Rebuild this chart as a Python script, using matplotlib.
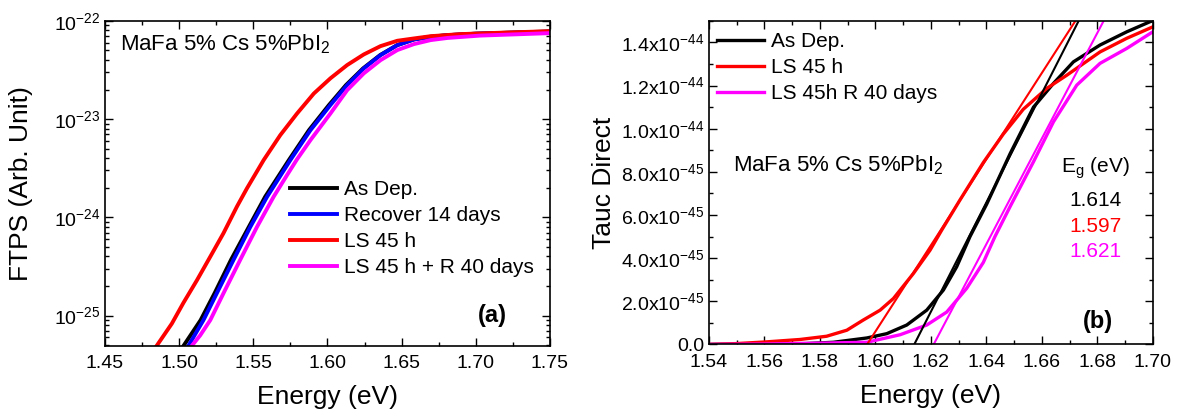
import numpy as np
import matplotlib
matplotlib.use("Agg")
import matplotlib.pyplot as plt
from matplotlib.ticker import MultipleLocator, FuncFormatter, FixedLocator, NullFormatter

plt.rcParams["font.family"] = ["Liberation Sans", "DejaVu Sans"]
plt.rcParams["mathtext.fontset"] = "custom"
plt.rcParams["mathtext.rm"] = "Liberation Sans"
plt.rcParams["mathtext.it"] = "Liberation Sans:italic"
plt.rcParams["mathtext.bf"] = "Liberation Sans:bold"
plt.rcParams["axes.unicode_minus"] = False

# ---- panel (a): FTPS spectra ----
e_asdep = [1.503, 1.5145, 1.524, 1.535, 1.547, 1.558, 1.574, 1.5875, 1.601, 1.6125, 1.624,
           1.6355, 1.647, 1.6583, 1.6696, 1.681, 1.70, 1.75]
y_asdep = [4.94e-26, 9.0e-26, 1.7e-25, 3.7e-25, 8.0e-25, 1.62e-24, 3.83e-24, 7.7e-24,
           1.39e-23, 2.22e-23, 3.28e-23, 4.48e-23, 5.66e-23, 6.47e-23, 6.9e-23, 7.15e-23,
           7.4e-23, 7.8e-23]

e_recover = [1.5063, 1.5164, 1.5255, 1.5367, 1.548, 1.5593, 1.575, 1.5885, 1.602, 1.6133,
             1.6245, 1.6358, 1.6471, 1.6583, 1.6696, 1.681, 1.70, 1.75]
y_recover = [4.94e-26, 9.0e-26, 1.7e-25, 3.7e-25, 8.0e-25, 1.62e-24, 3.83e-24, 7.7e-24,
             1.39e-23, 2.22e-23, 3.28e-23, 4.48e-23, 5.66e-23, 6.47e-23, 6.85e-23, 7.15e-23,
             7.4e-23, 7.76e-23]

e_ls45 = [1.4849, 1.4951, 1.5029, 1.512, 1.521, 1.5299, 1.539, 1.5457, 1.557, 1.5682, 1.5795,
          1.5908, 1.602, 1.6133, 1.6245, 1.6358, 1.6471, 1.6583, 1.6696, 1.69, 1.72, 1.75]
y_ls45 = [4.94e-26, 8.3e-26, 1.35e-25, 2.29e-25, 3.98e-25, 6.9e-25, 1.29e-24, 1.97e-24, 3.83e-24,
          6.87e-24, 1.14e-23, 1.82e-23, 2.6e-23, 3.55e-23, 4.55e-23, 5.53e-23, 6.27e-23, 6.62e-23,
          6.98e-23, 7.33e-23, 7.6e-23, 7.85e-23]

e_ls45r = [1.5086, 1.5142, 1.521, 1.530, 1.5412, 1.5525, 1.5637, 1.5728, 1.5795, 1.5885, 1.602,
           1.6133, 1.6245, 1.6358, 1.6471, 1.6583, 1.6696, 1.681, 1.703, 1.75]
y_ls45r = [4.94e-26, 6.3e-26, 9.0e-26, 1.7e-25, 3.7e-25, 8.0e-25, 1.62e-24, 2.7e-24, 3.9e-24,
           6.1e-24, 1.14e-23, 1.97e-23, 2.92e-23, 3.98e-23, 5.04e-23, 5.8e-23, 6.37e-23,
           6.7e-23, 7.08e-23, 7.5e-23]

labels_a = ["As Dep.", "Recover 14 days", "LS 45 h", "LS 45 h + R 40 days"]
decades_a = [1e-25, 1e-24, 1e-23, 1e-22]

# ---- panel (b): Tauc plot (values in units of 1e-45) ----
e_tauc_asdep = [1.54, 1.56, 1.575, 1.5848, 1.5969, 1.6041, 1.6113, 1.6185, 1.6245, 1.6293, 1.6341,
                1.6401, 1.6486, 1.657, 1.6642, 1.6714, 1.681, 1.6906, 1.699, 1.70]
t_asdep = [0.0, 0.02, 0.04, 0.1, 0.3, 0.5, 0.9, 1.59, 2.52, 3.6, 5.0, 6.5, 8.85, 11.0, 12.1,
           13.1, 13.88, 14.49, 14.96, 15.0]

e_tauc_ls45 = [1.54, 1.55, 1.5608, 1.5728, 1.5824, 1.5897, 1.5956, 1.6017, 1.6065, 1.6137, 1.6197,
               1.6239, 1.6305, 1.639, 1.6461, 1.6533, 1.6618, 1.669, 1.681, 1.6906, 1.70]
t_ls45 = [0.0, 0.04, 0.12, 0.23, 0.38, 0.66, 1.13, 1.59, 2.13, 3.29, 4.37, 5.3, 6.7, 8.45, 9.75,
          10.9, 11.87, 12.48, 13.56, 14.19, 14.72]

e_tauc_ls45r = [1.54, 1.56, 1.58, 1.5969, 1.6089, 1.6185, 1.6257, 1.6329, 1.6389, 1.6431, 1.6486,
                1.657, 1.6642, 1.6726, 1.681, 1.6906, 1.70]
t_ls45r = [0.0, 0.02, 0.06, 0.1, 0.45, 0.9, 1.5, 2.6, 3.8, 5.0, 6.4, 8.47, 10.32, 12.02, 13.03,
           13.72, 14.49]

labels_b = ["As Dep.", "LS 45 h", "LS 45h R 40 days"]
eg_values = [1.614, 1.597, 1.621]
fit_slopes = [2.53e-43, 1.997e-43, 2.447e-43]  # per eV
colors_b = ["black", "#ff0000", "#ff00ff"]
tauc_ticks = [0, 2e-45, 4e-45, 6e-45, 8e-45, 1e-44, 1.2e-44, 1.4e-44]

fig = plt.figure(figsize=(11.77, 4.17), dpi=100)
ax1 = fig.add_axes([0.0892, 0.171, 0.378, 0.779])
ax2 = fig.add_axes([0.6024, 0.174, 0.377, 0.776])

tick_fs = 14
lab_fs = 19
txt_fs = 15

ax1.plot(e_asdep, y_asdep, color="black", lw=2.8, label=labels_a[0])
ax1.plot(e_recover, y_recover, color="#0000ff", lw=2.8, label=labels_a[1])
ax1.plot(e_ls45, y_ls45, color="#ff0000", lw=2.8, label=labels_a[2])
ax1.plot(e_ls45r, y_ls45r, color="#ff00ff", lw=2.8, label=labels_a[3])
ax1.set_yscale("log")
ax1.set_xlim(1.45, 1.75)
ax1.set_ylim(4.94e-26, 1e-22)
ax1.xaxis.set_major_locator(MultipleLocator(0.05))
ax1.xaxis.set_minor_locator(MultipleLocator(0.025))
ax1.xaxis.set_major_formatter(FuncFormatter(lambda v, p: "%.2f" % v))
ax1.yaxis.set_major_locator(FixedLocator(decades_a))
minor_a = [m * d for d in [1e-26] + decades_a[:-1] for m in range(2, 10) if m * d > 4.94e-26]
ax1.yaxis.set_minor_locator(FixedLocator(minor_a))
ax1.yaxis.set_major_formatter(FuncFormatter(lambda v, p: r"10$^{\mathdefault{%d}}$" % round(np.log10(v))))
ax1.yaxis.set_minor_formatter(NullFormatter())
ax1.set_xlabel("Energy (eV)", fontsize=lab_fs)
ax1.set_ylabel("FTPS (Arb. Unit)", fontsize=lab_fs)
ax1.xaxis.set_label_coords(0.5, -0.12)
ax1.yaxis.set_label_coords(-0.162, 0.5)
ax1.text(0.034, 0.928, "MaFa 5% Cs 5%PbI$_2$", transform=ax1.transAxes, fontsize=16, va="center")
ax1.text(0.903, 0.094, "(a)", transform=ax1.transAxes, fontsize=17, fontweight="bold", ha="right", va="center")
ax1.legend(loc="upper left", bbox_to_anchor=(0.398, 0.535), frameon=False, fontsize=txt_fs,
           handlelength=2.26, handletextpad=0.3, labelspacing=0.33, borderaxespad=0)

ax2.plot(e_tauc_asdep, np.array(t_asdep) * 1e-45, color="black", lw=2.4, label=labels_b[0])
ax2.plot(e_tauc_ls45, np.array(t_ls45) * 1e-45, color="#ff0000", lw=2.4, label=labels_b[1])
ax2.plot(e_tauc_ls45r, np.array(t_ls45r) * 1e-45, color="#ff00ff", lw=2.4, label=labels_b[2])
for eg, k, c in zip(eg_values, fit_slopes, colors_b):
    xs = np.array([eg - 0.003, eg + 1.6e-44 / k])
    ax2.plot(xs, k * (xs - eg), color=c, lw=1.5)
ax2.set_xlim(1.54, 1.70)
ax2.set_ylim(0, 1.5e-44)
ax2.xaxis.set_major_locator(MultipleLocator(0.02))
ax2.xaxis.set_minor_locator(MultipleLocator(0.01))
ax2.xaxis.set_major_formatter(FuncFormatter(lambda v, p: "%.2f" % v))
ax2.yaxis.set_major_locator(FixedLocator(tauc_ticks))
ax2.yaxis.set_minor_locator(FixedLocator([t + 1e-45 for t in tauc_ticks]))


def tauc_fmt(v, p):
    if abs(v) < 1e-50:
        return "0.0"
    ex = int(np.floor(np.log10(abs(v))))
    return r"%.1fx10$^{\mathdefault{%d}}$" % (v / 10 ** ex, ex)


ax2.yaxis.set_major_formatter(FuncFormatter(tauc_fmt))
ax2.set_xlabel("Energy (eV)", fontsize=lab_fs)
ax2.set_ylabel("Tauc Direct", fontsize=lab_fs)
ax2.xaxis.set_label_coords(0.5, -0.123)
ax2.yaxis.set_label_coords(-0.21, 0.5)
ax2.text(0.054, 0.554, "MaFa 5% Cs 5%PbI$_2$", transform=ax2.transAxes, fontsize=16, va="center")
ax2.text(0.870, 0.545, r"E$_{\mathdefault{g}}$ (eV)", transform=ax2.transAxes, fontsize=txt_fs,
         ha="center", va="center")
for i, (eg, c) in enumerate(zip(eg_values, colors_b)):
    ax2.text(0.870, 0.446 - i * 0.08, "%.3f" % eg, transform=ax2.transAxes, fontsize=txt_fs,
             color=c, ha="center", va="center")
ax2.text(0.911, 0.07, "(b)", transform=ax2.transAxes, fontsize=17, fontweight="bold", ha="right", va="center")
ax2.legend(loc="upper left", bbox_to_anchor=(0.0, 0.99), frameon=False, fontsize=txt_fs,
           handlelength=2.26, handletextpad=0.3, labelspacing=0.33, borderaxespad=0)

for ax in (ax1, ax2):
    ax.tick_params(which="both", direction="in", top=True, right=True, labelsize=tick_fs, width=1)
    ax.tick_params(which="major", length=6)
    ax.tick_params(which="minor", length=3)
    ax.tick_params(axis="x", pad=7)
    for s in ax.spines.values():
        s.set_linewidth(1.2)

fig.savefig("out.png", dpi=100)
